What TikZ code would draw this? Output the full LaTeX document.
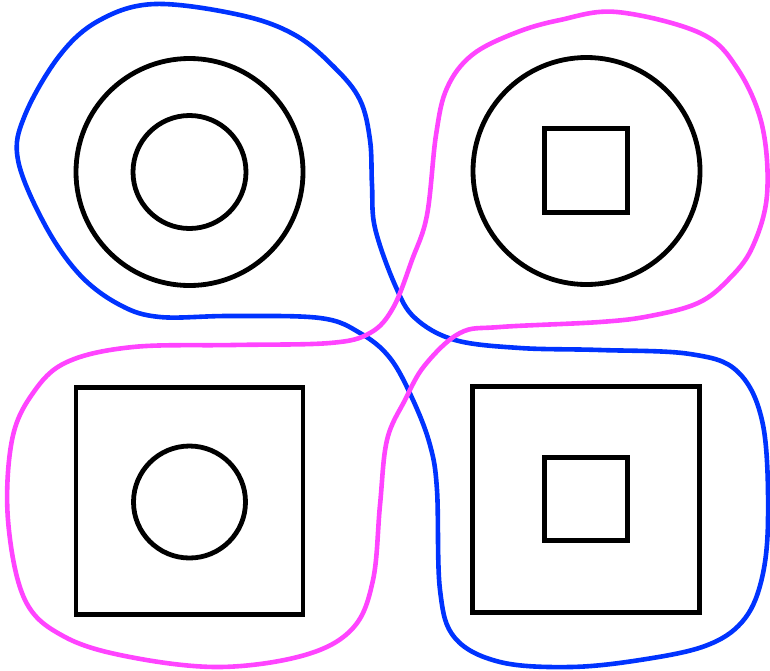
\documentclass[tikz,border=0pt]{standalone}
\begin{document}
\begin{tikzpicture}[x=1pt,y=-1pt,
  figline/.style={draw=black,line width=4.8pt},
  blob/.style={line width=4.6pt,line join=round},
  blobblue/.style={blob,draw={rgb,255:red,0;green,51;blue,255}},
  blobpink/.style={blob,draw={rgb,255:red,255;green,68;blue,255}}]
\useasboundingbox (0,0) rectangle (770,670);
% blue region
\draw[blobblue] plot[smooth cycle,tension=0.6] coordinates {
(155,4) (240,15) (295,35) (335,68) (360,100) (370,140) (372,185) (375,228) (395,285) (415,318) (455,340) (520,348) (600,350) (690,354) (738,372) (763,425) (768,520) (761,582) (742,622) (705,646) (640,660) (570,667) (500,662) (455,638) (440,590) (437,490) (430,445) (413,400) (390,358) (360,333) (320,318) (230,316) (160,317) (120,305) (80,275) (45,225) (18,160) (25,115) (60,55) (100,20)};
% pink region
\draw[blobpink] plot[smooth cycle,tension=0.6] coordinates {
(617,12) (700,33) (737,68) (762,125) (767,195) (752,248) (728,280) (698,303) (650,316) (600,322) (500,327) (460,333) (425,365) (405,400) (387,440) (380,505) (373,580) (353,628) (305,655) (220,667) (130,657) (65,637) (25,600) (8,520) (12,440) (33,393) (67,362) (133,347) (233,345) (330,343) (370,333) (393,308) (412,260) (427,215) (436,135) (447,88) (472,55) (515,33) (560,20)};
% shapes
\node[figline,circle,minimum size=227pt,inner sep=0pt] (c1) at (189.5,172) {};
\node[figline,circle,minimum size=113pt,inner sep=0pt] (c2) at (189.5,172) {};
\node[figline,circle,minimum size=227pt,inner sep=0pt] (c3) at (586.5,171) {};
\node[figline,rectangle,minimum size=83.5pt,inner sep=0pt] (s1) at (586,170.5) {};
\node[figline,rectangle,minimum size=227pt,inner sep=0pt] (s2) at (189.5,501) {};
\node[figline,circle,minimum size=112pt,inner sep=0pt] (c4) at (189.5,502) {};
\node[figline,rectangle,minimum size=226.5pt,inner sep=0pt] (s3) at (586,499.5) {};
\node[figline,rectangle,minimum size=83.5pt,inner sep=0pt] (s4) at (586,499) {};
\end{tikzpicture}
\end{document}
